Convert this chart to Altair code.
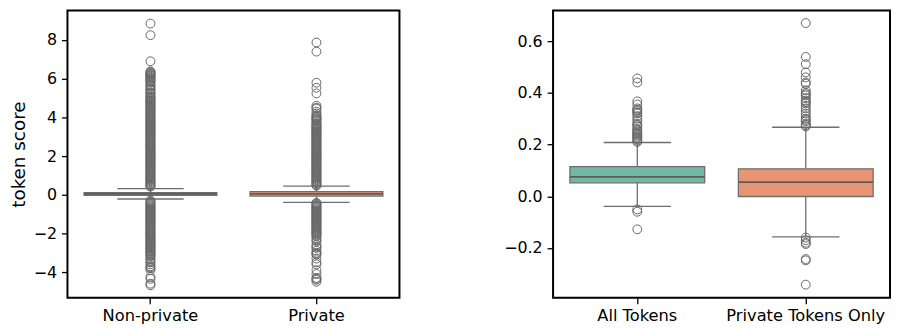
import altair as alt
import pandas as pd

# ---------------- data ----------------
left_cats = ["Non-private", "Private"]
left_q1 = [-0.03, -0.07]
left_med = [0.05, 0.05]
left_q3 = [0.11, 0.16]
left_lo = [-0.22, -0.39]
left_hi = [0.32, 0.44]

np_out = [8.85, 8.25, 6.9, 6.38, 6.34, 6.3, 6.26, 6.22, 6.18, 6.15, 6.1, 6.05, 6.0,
          5.95, 5.9, 5.85, 5.8, 5.7, 5.65, 5.6, 5.5, 5.45, 5.4, 5.3, 5.25, 5.2, 5.1,
          5.05, 5.0, 4.95, 4.9, 4.85, 4.8, 4.75, 4.7, 4.65, 4.6, 4.55, 4.5, 4.45, 4.4,
          4.35, 4.3, 4.25, 4.2, 4.15, 4.1, 4.05, 4.0, 3.95, 3.9, 3.85, 3.8, 3.75, 3.7,
          3.65, 3.6, 3.55, 3.5, 3.45, 3.4, 3.35, 3.3, 3.25, 3.2, 3.15, 3.1, 3.05, 3.0,
          2.95, 2.9, 2.85, 2.8, 2.75, 2.7, 2.65, 2.6, 2.55, 2.5, 2.45, 2.4, 2.35, 2.3,
          2.25, 2.2, 2.15, 2.1, 2.05, 2.0, 1.95, 1.9, 1.85, 1.8, 1.75, 1.7, 1.65, 1.6,
          1.55, 1.5, 1.45, 1.4, 1.35, 1.3, 1.25, 1.2, 1.15, 1.1, 1.05, 1.0, 0.95, 0.9,
          0.85, 0.8, 0.75, 0.7, 0.65, 0.6, 0.55, 0.5, 0.45, 0.42,
          -0.3, -0.35, -0.4, -0.45, -0.5, -0.55, -0.6, -0.65, -0.7, -0.75, -0.8,
          -0.85, -0.9, -0.95, -1.0, -1.05, -1.1, -1.15, -1.2, -1.25, -1.3, -1.35,
          -1.4, -1.45, -1.5, -1.55, -1.6, -1.65, -1.7, -1.75, -1.8, -1.85, -1.9,
          -1.95, -2.0, -2.05, -2.1, -2.15, -2.2, -2.25, -2.3, -2.35, -2.4, -2.45,
          -2.5, -2.55, -2.6, -2.65, -2.7, -2.75, -2.8, -2.85, -2.9, -2.95, -3.0,
          -3.05, -3.1, -3.15, -3.2, -3.3, -3.35, -3.45, -3.5, -3.6, -3.7, -3.75,
          -3.8, -3.9, -4.25, -4.35, -4.6, -4.68]
pr_out = [7.87, 7.4, 5.79, 5.53, 5.24, 4.6, 4.5, 4.45, 4.3, 4.2, 4.1, 4.05, 4.0, 3.95,
          3.9, 3.85, 3.8, 3.7, 3.65, 3.6, 3.55, 3.5, 3.45, 3.4, 3.35, 3.3, 3.25, 3.2,
          3.15, 3.1, 3.05, 3.0, 2.95, 2.9, 2.85, 2.8, 2.75, 2.7, 2.65, 2.6, 2.55, 2.5,
          2.45, 2.4, 2.35, 2.3, 2.25, 2.2, 2.15, 2.1, 2.05, 2.0, 1.95, 1.9, 1.85, 1.8,
          1.75, 1.7, 1.65, 1.6, 1.55, 1.5, 1.45, 1.4, 1.35, 1.3, 1.25, 1.2, 1.15, 1.1,
          1.05, 1.0, 0.95, 0.9, 0.85, 0.8, 0.75, 0.7, 0.65, 0.6, 0.55, 0.5, 0.47,
          -0.42, -0.45, -0.5, -0.55, -0.6, -0.65, -0.7, -0.75, -0.8, -0.85, -0.9,
          -0.95, -1.0, -1.05, -1.1, -1.15, -1.2, -1.25, -1.3, -1.35, -1.4, -1.45,
          -1.5, -1.55, -1.6, -1.65, -1.7, -1.75, -1.8, -1.85, -1.9, -1.95, -2.0,
          -2.05, -2.1, -2.15, -2.25, -2.35, -2.4, -2.6, -2.7, -2.75, -2.9, -3.0,
          -3.05, -3.1, -3.3, -3.5, -3.6, -3.9, -4.1, -4.3, -4.35, -4.4, -4.5]

right_cats = ["All Tokens", "Private Tokens Only"]
right_q1 = [0.052, -0.001]
right_med = [0.075, 0.055]
right_q3 = [0.115, 0.106]
right_lo = [-0.039, -0.157]
right_hi = [0.208, 0.267]

all_out = [0.456, 0.44, 0.367, 0.355, 0.34, 0.335, 0.33, 0.325, 0.32, 0.31, 0.30,
           0.29, 0.28, 0.275, 0.27, 0.26, 0.255, 0.25, 0.245, 0.24, 0.235, 0.23,
           0.225, 0.22, 0.215, 0.21,
           -0.051, -0.06, -0.128]
priv_out = [0.67, 0.539, 0.511, 0.479, 0.46, 0.44, 0.435, 0.41, 0.40, 0.395, 0.39,
            0.38, 0.37, 0.365, 0.36, 0.35, 0.34, 0.33, 0.32, 0.31, 0.30, 0.295,
            0.29, 0.28, 0.275, 0.27,
            -0.16, -0.17, -0.18, -0.185, -0.243, -0.248, -0.342]

left_ticks = [-4, -2, 0, 2, 4, 6, 8]
right_ticks = [-0.2, 0.0, 0.2, 0.4, 0.6]

box_colors = ["#71b7a1", "#e99575"]
LINE = "#6e6e6e"
MED = "#5c5c5c"
FONT = "DejaVu Sans"


def panel(cats, q1, med, q3, lo, hi, outs, domain, ticks, fmt, width, height, ytitle):
    stats = pd.DataFrame({"cat": cats, "q1": q1, "med": med, "q3": q3, "lo": lo, "hi": hi})
    rows = []
    for c, vals in zip(cats, outs):
        rows += [{"cat": c, "v": v} for v in vals]
    odf = pd.DataFrame(rows)

    band = width * 0.4
    yscale = alt.Scale(domain=domain, nice=False, zero=False)
    yaxis = alt.Axis(values=ticks, format=fmt, title=ytitle, grid=False)
    x = alt.X("cat:N", sort=cats,
              scale=alt.Scale(paddingInner=0.2, paddingOuter=0.1),
              axis=alt.Axis(labelAngle=0, title=None, labelFontSize=16.4, labelPadding=4))

    base = alt.Chart(stats)
    whisker = base.mark_rule(color=LINE, strokeWidth=1.3).encode(
        x=x, y=alt.Y("lo:Q", scale=yscale, axis=yaxis), y2="hi:Q")
    box = base.mark_bar(stroke=LINE, strokeWidth=1.3, opacity=1).encode(
        x=x, y=alt.Y("q1:Q", scale=yscale, axis=yaxis), y2="q3:Q",
        color=alt.Color("cat:N", scale=alt.Scale(domain=cats, range=box_colors), legend=None))
    cap_lo = base.mark_tick(color=LINE, size=band / 2, thickness=1.3, opacity=1).encode(
        x=x, y=alt.Y("lo:Q", scale=yscale, axis=yaxis))
    cap_hi = base.mark_tick(color=LINE, size=band / 2, thickness=1.3, opacity=1).encode(
        x=x, y=alt.Y("hi:Q", scale=yscale, axis=yaxis))
    median = base.mark_tick(color=MED, size=band, thickness=1.8, opacity=1).encode(
        x=x, y=alt.Y("med:Q", scale=yscale, axis=yaxis))
    pts = alt.Chart(odf).mark_point(shape="circle", filled=False, size=80,
                                    color="#666666", strokeWidth=1, opacity=1).encode(
        x=x, y=alt.Y("v:Q", scale=yscale, axis=yaxis))
    return alt.layer(whisker, box, median, cap_lo, cap_hi, pts).properties(
        width=width, height=height)


left = panel(left_cats, left_q1, left_med, left_q3, left_lo, left_hi,
             [np_out, pr_out], [-5.33, 9.53], left_ticks, "d", 335, 290, "token score")
right = panel(right_cats, right_q1, right_med, right_q3, right_lo, right_hi,
              [all_out, priv_out], [-0.393, 0.719], right_ticks, ".1f", 340, 290, None)

chart = alt.hconcat(left, right, spacing=103).properties(
    padding={"left": 0, "top": 0, "right": 0, "bottom": 0}
).configure_view(
    stroke="black", strokeWidth=2
).configure_axis(
    labelFont=FONT, titleFont=FONT, labelColor="black", titleColor="black",
    tickColor="black", tickSize=6, tickWidth=1.3, domain=False,
    labelFontSize=16, labelPadding=5, titleFontSize=18.5, titleFontWeight="normal",
    titlePadding=5
)

chart.save("out.html", embed_options={"renderer": "svg", "actions": False})
